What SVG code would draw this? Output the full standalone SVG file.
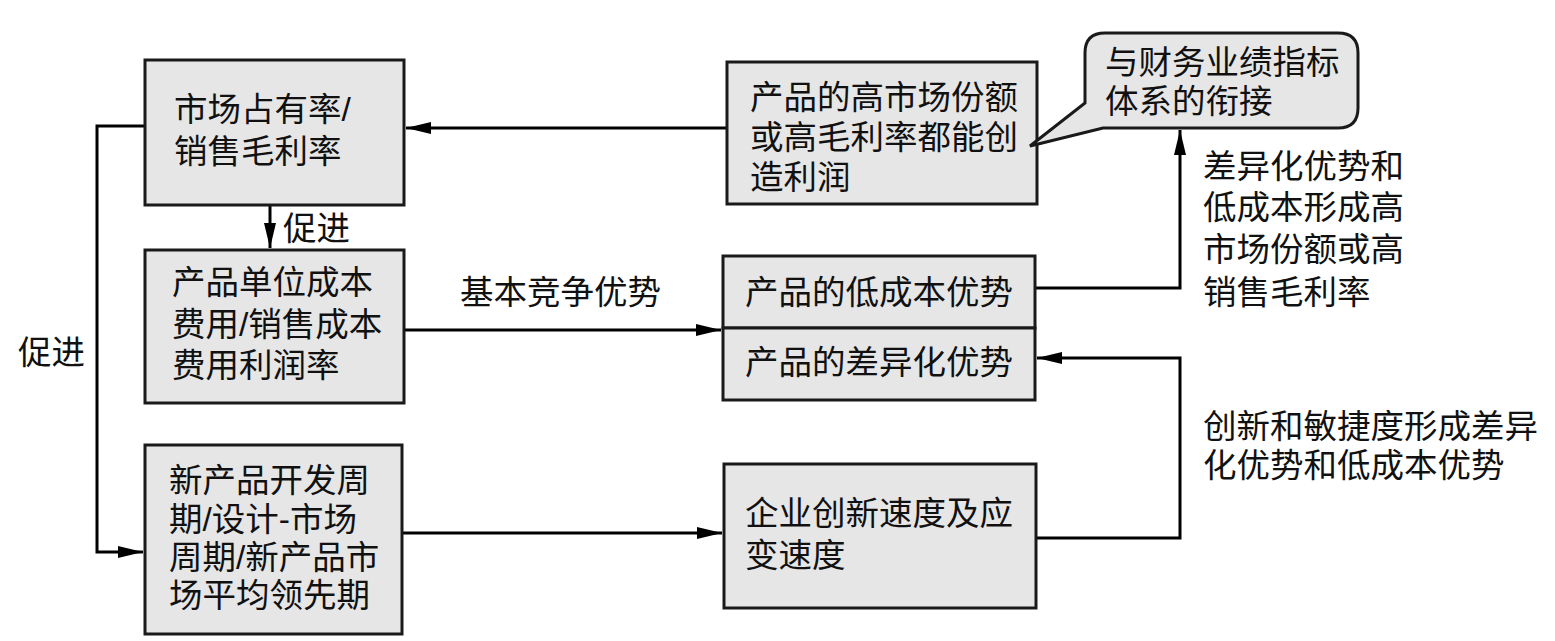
<svg xmlns="http://www.w3.org/2000/svg" width="1555" height="641" viewBox="0 0 1555 641" xml:lang="zh-CN">
<defs>
<style>
.box{fill:#e6e6e6;stroke:#1a1a1a;stroke-width:3}
.ln{fill:none;stroke:#000;stroke-width:3}
text{font-family:"Liberation Sans","Noto Sans CJK SC",sans-serif;font-size:33.5px;fill:#111}
</style>
<marker id="ah" markerUnits="userSpaceOnUse" markerWidth="26" markerHeight="12" refX="25" refY="6" orient="auto">
<path d="M0,0 L25,6 L0,12 Z" fill="#000"/>
</marker>
</defs>
<rect width="1555" height="641" fill="#fff"/>
<g id="connectors">
<path class="ln" d="M727,128 H406" marker-end="url(#ah)"/>
<path class="ln" d="M145,126 H97 V552 H143" marker-end="url(#ah)"/>
<path class="ln" d="M270,205 V248" marker-end="url(#ah)"/>
<path class="ln" d="M404,330 H721" marker-end="url(#ah)"/>
<path class="ln" d="M402,533 H722" marker-end="url(#ah)"/>
<path class="ln" d="M1035,288 H1180 V130" marker-end="url(#ah)"/>
<path class="ln" d="M1036,538 H1180 V358 H1037" marker-end="url(#ah)"/>
</g>
<g id="n1"><rect class="box" x="145" y="60" width="259" height="145"/><text><tspan x="174" y="121">市场占有率/</tspan><tspan x="174" y="163">销售毛利率</tspan></text></g>
<g id="n2"><rect class="box" x="145" y="250" width="259" height="153"/><text><tspan x="172" y="294">产品单位成本</tspan><tspan x="172" y="336">费用/销售成本</tspan><tspan x="172" y="377">费用利润率</tspan></text></g>
<g id="n3"><rect class="box" x="145" y="445" width="257" height="189"/><text><tspan x="169" y="492">新产品开发周</tspan><tspan x="169" y="531">期/设计-市场</tspan><tspan x="169" y="569">周期/新产品市</tspan><tspan x="169" y="607">场平均领先期</tspan></text></g>
<g id="n4"><rect class="box" x="727" y="62" width="310" height="142"/><text><tspan x="750" y="109">产品的高市场份额</tspan><tspan x="750" y="149">或高毛利率都能创</tspan><tspan x="750" y="189">造利润</tspan></text></g>
<g id="n5"><rect class="box" x="723" y="256" width="312" height="72"/><text x="879" y="304" text-anchor="middle">产品的低成本优势</text></g>
<g id="n6"><rect class="box" x="723" y="328" width="312" height="72"/><text x="879" y="374" text-anchor="middle">产品的差异化优势</text></g>
<g id="n7"><rect class="box" x="724" y="464" width="312" height="144"/><text><tspan x="745" y="525">企业创新速度及应</tspan><tspan x="745" y="567">变速度</tspan></text></g>
<g id="callout"><path class="box" d="M1105,33 H1338 Q1358,33 1358,53 V108 Q1358,128 1338,128 H1103 L1030,146 L1085,103 V53 Q1085,33 1105,33 Z"/><text><tspan x="1105" y="74">与财务业绩指标</tspan><tspan x="1105" y="113">体系的衔接</tspan></text></g>
<g id="labels">
<text x="283" y="240">促进</text>
<text x="18" y="364">促进</text>
<text x="460" y="304">基本竞争优势</text>
<text><tspan x="1203" y="178">差异化优势和</tspan><tspan x="1203" y="219">低成本形成高</tspan><tspan x="1203" y="261">市场份额或高</tspan><tspan x="1203" y="304">销售毛利率</tspan></text>
<text><tspan x="1203" y="438">创新和敏捷度形成差异</tspan><tspan x="1203" y="477">化优势和低成本优势</tspan></text>
</g>
</svg>
